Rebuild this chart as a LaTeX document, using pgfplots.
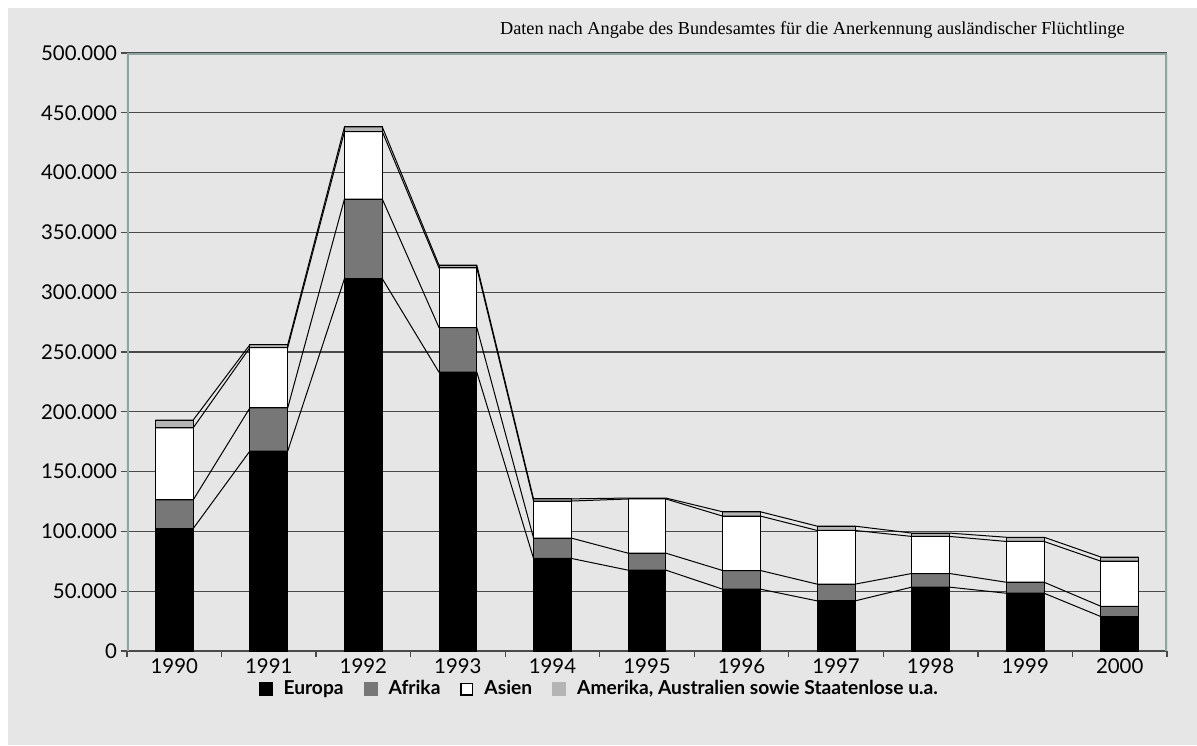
\documentclass[border=0pt]{standalone}
\usepackage{pgfplots}
\pgfplotsset{compat=1.18}
\usepackage{fontspec}
\setmainfont{Lato}
\newfontfamily\notefont{Liberation Serif}
\definecolor{bgc}{HTML}{E6E6E6}
\definecolor{afr}{HTML}{777777}
\definecolor{ame}{HTML}{B4B4B4}
\definecolor{frm}{HTML}{8DA4A1}
\definecolor{grd}{HTML}{4A4A4A}
\begin{document}
\begin{tikzpicture}
\fill[white] (-63.5pt,-47pt) rectangle (535pt,325.5pt);
\fill[bgc] (-59.5pt,-47pt) rectangle (535pt,321.5pt);
\begin{axis}[
  at={(0,0)}, anchor=south west,
  scale only axis, width=520pt, height=299pt,
  ybar stacked, bar width=0.4,
  xmin=-0.5, xmax=10.5, ymin=0, ymax=500000,
  xtick={-0.5,0.5,...,10.5},
  x tick label as interval,
  xticklabels={1990,1991,1992,1993,1994,1995,1996,1997,1998,1999,2000},
  ytick={0,50000,...,500000},
  scaled y ticks=false,
  yticklabel style={/pgf/number format/.cd,fixed,1000 sep={.},assume math mode=true},
  xticklabel style={/pgf/number format/assume math mode=true},
  tick label style={font=\fontsize{10.2}{12}\selectfont, color=black},
  tick align=outside, tick pos=left,
  major tick length=3pt,
  tick style={grd, line width=0.6pt},
  ymajorgrids, grid style={grd, line width=0.6pt},
  axis line style={draw=none},
  xticklabel shift=-2.5pt, yticklabel shift=-1.5pt,
  legend columns=4,
  legend style={at={(0.455,-0.064)}, anchor=center, draw=none, fill=none,
    font=\bfseries\fontsize{9.6}{11}\selectfont,
    /tikz/every odd column/.append style={column sep=3.5pt},
    /tikz/every even column/.append style={column sep=8pt}},
  legend cell align=left,
]
\addplot[fill=black, draw=black, line width=0.5pt,
  legend image code/.code={\fill[black] (0pt,-3.25pt) rectangle (6.5pt,3.25pt);}]
  coordinates {(0,102400)(1,167200)(2,311300)(3,233100)(4,77400)(5,67600)(6,51700)(7,41900)(8,53400)(9,48300)(10,28800)};
\addlegendentry{Europa}
\addplot[fill=afr, draw=black, line width=0.5pt,
  legend image code/.code={\fill[afr] (0pt,-3.25pt) rectangle (6.5pt,3.25pt);}]
  coordinates {(0,23900)(1,36100)(2,66600)(3,37300)(4,17000)(5,14200)(6,15600)(7,14000)(8,11400)(9,9200)(10,8600)};
\addlegendentry{Afrika}
\addplot[fill=white, draw=black, line width=0.5pt,
  legend image code/.code={\draw[black, fill=white, line width=0.7pt] (0.35pt,-2.9pt) rectangle (6.15pt,2.9pt);}]
  coordinates {(0,60300)(1,50400)(2,56400)(3,49900)(4,31000)(5,45300)(6,45500)(7,44900)(8,31000)(9,34100)(10,37700)};
\addlegendentry{Asien}
\addplot[fill=ame, draw=black, line width=0.5pt,
  legend image code/.code={\fill[ame] (0pt,-3.25pt) rectangle (6.5pt,3.25pt);}]
  coordinates {(0,6500)(1,2400)(2,3900)(3,2300)(4,1800)(5,800)(6,3600)(7,3600)(8,2800)(9,3500)(10,3500)};
\addlegendentry{Amerika, Australien sowie Staatenlose u.a.}
\draw[frm, line width=1.6pt] (rel axis cs:0,0) -- (rel axis cs:0,1) -- (rel axis cs:1,1) -- (rel axis cs:1,0);
\draw[grd, line width=1pt] (rel axis cs:0,0) -- (rel axis cs:1,0);
\end{axis}
\begin{axis}[
  at={(0,0)}, anchor=south west,
  scale only axis, width=520pt, height=299pt,
  xmin=-0.5, xmax=10.5, ymin=0, ymax=500000,
  hide axis,
]
\addplot[black, line width=0.5pt, mark=none] coordinates {(-0.2,102400)(0.2,102400)(0.8,167200)(1.2,167200)(1.8,311300)(2.2,311300)(2.8,233100)(3.2,233100)(3.8,77400)(4.2,77400)(4.8,67600)(5.2,67600)(5.8,51700)(6.2,51700)(6.8,41900)(7.2,41900)(7.8,53400)(8.2,53400)(8.8,48300)(9.2,48300)(9.8,28800)(10.2,28800)};
\addplot[black, line width=0.5pt, mark=none] coordinates {(-0.2,126300)(0.2,126300)(0.8,203300)(1.2,203300)(1.8,377900)(2.2,377900)(2.8,270400)(3.2,270400)(3.8,94400)(4.2,94400)(4.8,81800)(5.2,81800)(5.8,67300)(6.2,67300)(6.8,55900)(7.2,55900)(7.8,64800)(8.2,64800)(8.8,57500)(9.2,57500)(9.8,37400)(10.2,37400)};
\addplot[black, line width=0.5pt, mark=none] coordinates {(-0.2,186600)(0.2,186600)(0.8,253700)(1.2,253700)(1.8,434300)(2.2,434300)(2.8,320300)(3.2,320300)(3.8,125400)(4.2,125400)(4.8,127100)(5.2,127100)(5.8,112800)(6.2,112800)(6.8,100800)(7.2,100800)(7.8,95800)(8.2,95800)(8.8,91600)(9.2,91600)(9.8,75100)(10.2,75100)};
\addplot[black, line width=0.5pt, mark=none] coordinates {(-0.2,193100)(0.2,193100)(0.8,256100)(1.2,256100)(1.8,438200)(2.2,438200)(2.8,322600)(3.2,322600)(3.8,127200)(4.2,127200)(4.8,127900)(5.2,127900)(5.8,116400)(6.2,116400)(6.8,104400)(7.2,104400)(7.8,98600)(8.2,98600)(8.8,95100)(9.2,95100)(9.8,78600)(10.2,78600)};
\end{axis}
\node[anchor=east, font=\notefont\fontsize{9.15}{11}\selectfont, inner sep=0pt] at (499pt,310.5pt) {Daten nach Angabe des Bundesamtes für die Anerkennung ausländischer Flüchtlinge};
\path[use as bounding box] (-63.5pt,-47pt) rectangle (535pt,325.5pt);
\end{tikzpicture}
\end{document}
